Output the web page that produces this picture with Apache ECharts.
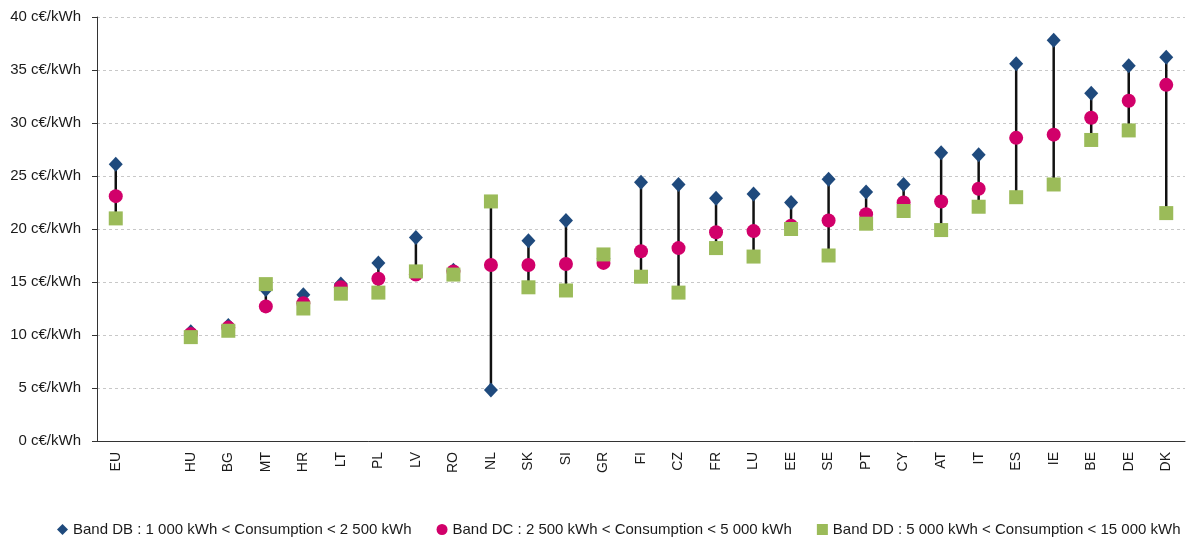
<!DOCTYPE html>
<html>
<head>
<meta charset="utf-8">
<script src="https://cdn.jsdelivr.net/npm/echarts@6/dist/echarts.min.js"></script>
<style>
html,body{margin:0;padding:0;background:#fff;}
#chart{width:1186px;height:540px;}
</style>
</head>
<body>
<div id="chart"></div>
<script>
const categories = ['EU','','HU','BG','MT','HR','LT','PL','LV','RO','NL','SK','SI','GR','FI','CZ','FR','LU','EE','SE','PT','CY','AT','IT','ES','IE','BE','DE','DK'];
const bandDB = [26.1,null,10.3,10.9,14.3,13.8,14.8,16.8,19.2,16.1,4.8,18.9,20.8,17.2,24.4,24.2,22.9,23.3,22.5,24.7,23.5,24.2,27.2,27.0,35.6,37.8,32.8,35.4,36.2];
const bandDC = [23.1,null,10.1,10.7,12.7,13.0,14.5,15.3,15.7,16.0,16.6,16.6,16.7,16.8,17.9,18.2,19.7,19.8,20.3,20.8,21.4,22.5,22.6,23.8,28.6,28.9,30.5,32.1,33.6];
const bandDD = [21.0,null,9.8,10.4,14.8,12.5,13.9,14.0,16.0,15.7,22.6,14.5,14.2,17.6,15.5,14.0,18.2,17.4,20.0,17.5,20.5,21.7,19.9,22.1,23.0,24.2,28.4,29.3,21.5];
const seriesNames = [
  'Band DB : 1 000 kWh < Consumption < 2 500 kWh',
  'Band DC : 2 500 kWh < Consumption < 5 000 kWh',
  'Band DD : 5 000 kWh < Consumption < 15 000 kWh'
];
const unit = ' c€/kWh';

const rangeData = categories.map((c, i) => {
  const vals = [bandDB[i], bandDC[i], bandDD[i]].filter(v => v != null);
  if (!vals.length) return [i, null, null];
  return [i, Math.min(...vals), Math.max(...vals)];
});

const FONT = 'Liberation Sans';
const chart = echarts.init(document.getElementById('chart'));
chart.setOption({
  animation: false,
  textStyle: {fontFamily: FONT},
  grid: {left: 97, right: 1, top: 17, bottom: 99, containLabel: false},
  legend: {
    top: 522,
    left: 57,
    width: 1128,
    padding: 0,
    itemGap: 25,
    itemWidth: 11,
    itemHeight: 11,
    textStyle: {fontFamily: FONT, fontSize: 15, color: '#1a1a1a'},
    data: [
      {name: seriesNames[0], icon: 'diamond', itemStyle: {color: '#1f4a7d'}},
      {name: seriesNames[1], icon: 'circle', itemStyle: {color: '#d1006a'}},
      {name: seriesNames[2], icon: 'rect', itemStyle: {color: '#9bbb59'}}
    ]
  },
  xAxis: {
    type: 'category',
    data: categories,
    axisLine: {show: true, lineStyle: {color: '#333', width: 1}},
    axisTick: {show: false},
    axisLabel: {rotate: 90, margin: 11, fontFamily: FONT, fontSize: 14, color: '#1a1a1a', interval: 0}
  },
  yAxis: {
    type: 'value',
    min: 0, max: 40, interval: 5,
    axisLine: {show: true, lineStyle: {color: '#333', width: 1}},
    axisTick: {show: true, length: 5, lineStyle: {color: '#333'}},
    axisLabel: {formatter: v => v + unit, fontFamily: FONT, fontSize: 15, color: '#1a1a1a', margin: 16},
    splitLine: {show: true, lineStyle: {color: '#c8c8c8', type: [3, 3], width: 1}}
  },
  series: [
    {
      type: 'custom',
      name: 'range',
      silent: true,
      z: 1,
      data: rangeData,
      renderItem: function (params, api) {
        const lo = api.value(1), hi = api.value(2);
        if (lo == null || isNaN(lo)) return;
        const p1 = api.coord([api.value(0), lo]);
        const p2 = api.coord([api.value(0), hi]);
        return {type: 'line', shape: {x1: p1[0], y1: p1[1], x2: p2[0], y2: p2[1]},
                style: {stroke: '#111', lineWidth: 2.5}};
      }
    },
    {name: seriesNames[0], type: 'scatter', z: 2, symbol: 'diamond', symbolSize: [14, 15],
     itemStyle: {color: '#1f4a7d', opacity: 1}, data: bandDB},
    {name: seriesNames[1], type: 'scatter', z: 3, symbol: 'circle', symbolSize: 14,
     itemStyle: {color: '#d1006a', opacity: 1}, data: bandDC},
    {name: seriesNames[2], type: 'scatter', z: 4, symbol: 'rect', symbolSize: 14,
     itemStyle: {color: '#9bbb59', opacity: 1}, data: bandDD}
  ]
});
</script>
</body>
</html>
